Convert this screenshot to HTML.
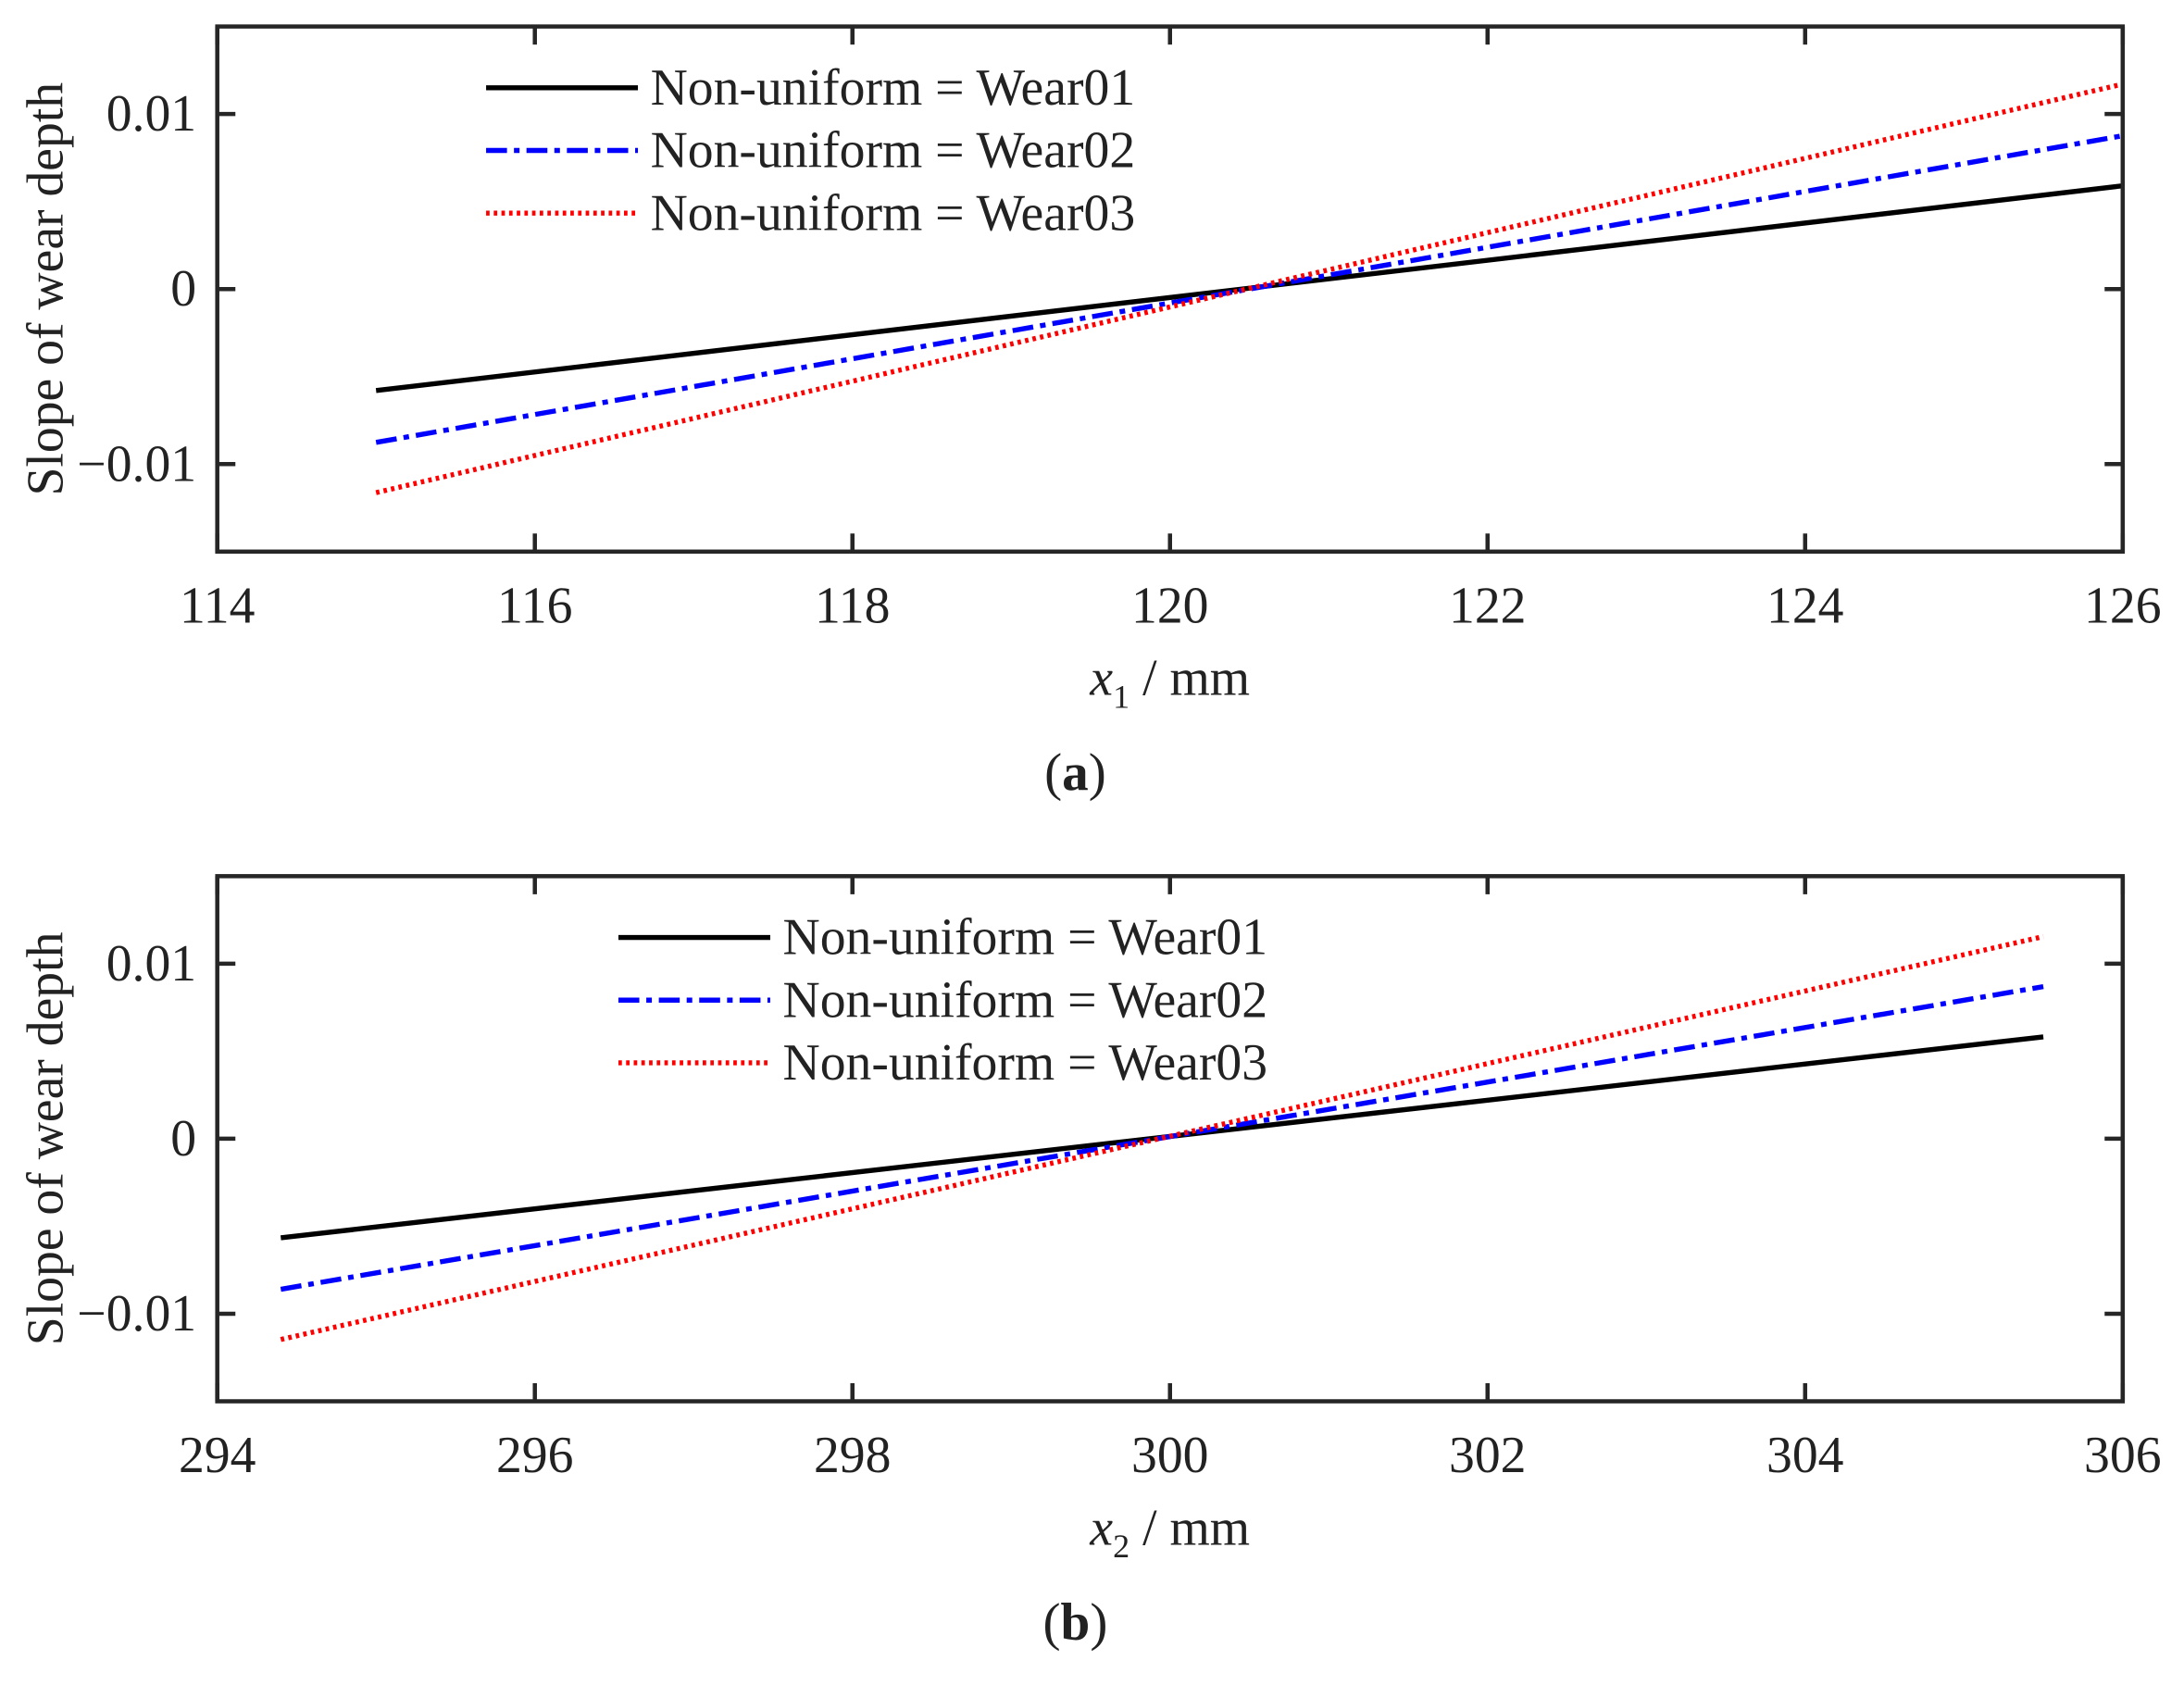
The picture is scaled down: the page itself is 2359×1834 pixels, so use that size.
<!DOCTYPE html>
<html><head><meta charset="utf-8"><style>
html,body{margin:0;padding:0;background:#fff}
svg{display:block}
text{font-family:"Liberation Serif","DejaVu Serif",serif;fill:#222}
</style></head><body>
<svg id="fig" width="2359" height="1834" viewBox="0 0 1568 1219" xmlns="http://www.w3.org/2000/svg"></svg>
<script>
const xTicksA = [114,116,118,120,122,124,126];
const xTicksB = [294,296,298,300,302,304,306];
const yTicks = [-0.01,0,0.01];
const yTickLabels = ["\u22120.01","0","0.01"];
const seriesNames = ["Non-uniform = Wear01","Non-uniform = Wear02","Non-uniform = Wear03"];
const xRangeA = [115,126];
const wear01A = [-0.0058,0.0059];
const wear02A = [-0.00876,0.00876];
const wear03A = [-0.01163,0.01171];
const xRangeB = [294.4,305.5];
const wear01B = [-0.00566,0.00582];
const wear02B = [-0.0086,0.00869];
const wear03B = [-0.01147,0.01155];

const NS="http://www.w3.org/2000/svg";
const svg=document.getElementById('fig');
function mk(tag,attrs,parent){const e=document.createElementNS(NS,tag);for(const k in attrs)e.setAttribute(k,attrs[k]);(parent||svg).appendChild(e);return e;}
const styles=[{stroke:"#000",dash:"none"},{stroke:"#0000ff",dash:"15 5 4 5"},{stroke:"#ff0000",dash:"2.5 3"}];

function panel(o){
  const g=mk('g',{});
  
  
  const L=156,R=1524,T=o.top,B=o.top+377;
  const xmin=o.xticks[0],xmax=o.xticks[o.xticks.length-1];
  const sx=v=>L+(v-xmin)/(xmax-xmin)*(R-L);
  const sy=v=>(T+B)/2-v/0.015*((B-T)/2);
  const data=[o.s1,o.s2,o.s3];
  data.forEach((d,i)=>{
    const ln=mk('line',{x1:sx(o.xr[0]),y1:sy(d[0]),x2:sx(o.xr[1]),y2:sy(d[1]),stroke:styles[i].stroke,'stroke-width':3.6,'stroke-dasharray':styles[i].dash},g);
    
    
  });
  const box=mk('rect',{x:L,y:T,width:R-L,height:B-T,fill:'none',stroke:'#262626','stroke-width':3},g);
  
  
  o.xticks.forEach(v=>{
    const x=sx(v);
    mk('line',{x1:x,y1:B,x2:x,y2:B-13,stroke:'#262626','stroke-width':3},g);
    mk('line',{x1:x,y1:T,x2:x,y2:T+13,stroke:'#262626','stroke-width':3},g);
    const t=mk('text',{x:x,y:B+51,'font-size':37,'text-anchor':'middle'},g);
    t.textContent=v;
    
    
  });
  yTicks.forEach((v,i)=>{
    const y=sy(v);
    mk('line',{x1:L,y1:y,x2:L+13,y2:y,stroke:'#262626','stroke-width':3},g);
    mk('line',{x1:R,y1:y,x2:R-13,y2:y,stroke:'#262626','stroke-width':3},g);
    const t=mk('text',{x:141,y:y+12,'font-size':37,'text-anchor':'end'},g);
    t.textContent=yTickLabels[i];
    
    
  });
  const yt=mk('text',{x:0,y:0,'font-size':37,'text-anchor':'middle',transform:`translate(45,${(T+B)/2}) rotate(-90)`},g);
  yt.textContent='Slope of wear depth';
  
  
  const xt=mk('text',{x:840,y:B+103,'font-size':37,'text-anchor':'middle'},g);
  xt.innerHTML='<tspan font-style="italic">x</tspan><tspan font-size="24" dy="9">'+o.sub+'</tspan><tspan dy="-9"> / mm</tspan>';
  
  
  const cap=mk('text',{x:772,y:B+171,'font-size':38,'text-anchor':'middle'},g);
  cap.innerHTML='(<tspan font-weight="bold">'+o.cap+'</tspan>)';
  
  
  seriesNames.forEach((n,i)=>{
    const y=T+44+i*45;
    const le=mk('g',{},g);
    
    
    mk('line',{x1:o.lx,y1:y,x2:o.lx+109,y2:y,stroke:styles[i].stroke,'stroke-width':3.6,'stroke-dasharray':styles[i].dash},le);
    const t=mk('text',{x:o.lx+118,y:y+12,'font-size':37},le);
    t.textContent=n;
  });
}
panel({name:'panel-a',top:19,xticks:xTicksA,xr:xRangeA,s1:wear01A,s2:wear02A,s3:wear03A,sub:'1',cap:'a',lx:349});
panel({name:'panel-b',top:629,xticks:xTicksB,xr:xRangeB,s1:wear01B,s2:wear02B,s3:wear03B,sub:'2',cap:'b',lx:444});
</script>
</body></html>
